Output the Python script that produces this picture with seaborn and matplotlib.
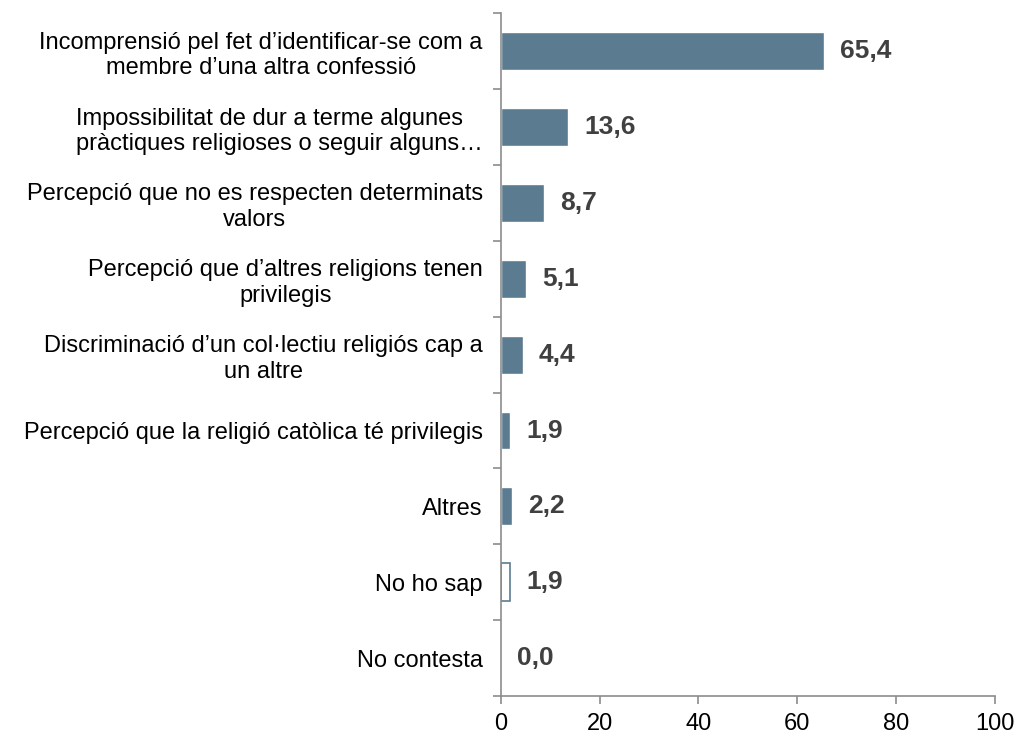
import matplotlib
matplotlib.use("Agg")
import matplotlib.pyplot as plt
import seaborn as sns
import pandas as pd

categories = [
    "Incomprensió pel fet d’identificar-se com a\nmembre d’una altra confessió",
    "Impossibilitat de dur a terme algunes\npràctiques religioses o seguir alguns…",
    "Percepció que no es respecten determinats\nvalors",
    "Percepció que d’altres religions tenen\nprivilegis",
    "Discriminació d’un col·lectiu religiós cap a\nun altre",
    "Percepció que la religió catòlica té privilegis",
    "Altres",
    "No ho sap",
    "No contesta",
]
values = [65.4, 13.6, 8.7, 5.1, 4.4, 1.9, 2.2, 1.9, 0.0]
value_labels = ["65,4", "13,6", "8,7", "5,1", "4,4", "1,9", "2,2", "1,9", "0,0"]
x_ticks = [0, 20, 40, 60, 80, 100]

sns.set_theme(style="white")
plt.rcParams["font.family"] = ["Liberation Sans", "DejaVu Sans"]

bar_color = "#5B7B90"
spine_color = "#8C8C8C"

df = pd.DataFrame({"cat": categories, "val": values})

fig = plt.figure(figsize=(10.18, 7.35), dpi=100)
ax = fig.add_axes([0.492, 0.053, 0.485, 0.929])

sns.barplot(data=df, y="cat", x="val", orient="h", color=bar_color,
            width=0.5, saturation=1, ax=ax, order=categories)

# "No ho sap" drawn as an outlined bar
for i, p in enumerate(ax.patches):
    if categories[i] == "No ho sap":
        p.set_facecolor("white")
        p.set_edgecolor(bar_color)
        p.set_linewidth(1.2)

ax.set_xlim(0, 100)
ax.set_ylim(len(categories) - 0.5, -0.5)
ax.set_xticks(x_ticks)
ax.set_xticklabels([str(t) for t in x_ticks], fontsize=17, color="black")

# category boundaries as major ticks, labels on minor ticks at the centres
ax.set_yticks([i - 0.5 for i in range(len(categories) + 1)])
ax.set_yticklabels([])
ax.set_yticks(range(len(categories)), minor=True)
ax.set_yticklabels(categories, minor=True, fontsize=17, color="black")
for lab in ax.get_yticklabels(minor=True):
    lab.set_multialignment("center")
ax.get_yticklabels(minor=True)[1].set_multialignment("left")

ax.tick_params(axis="y", which="major", length=6, width=1.2, color=spine_color, direction="out", left=True)
ax.tick_params(axis="y", which="minor", length=0, pad=13)
ax.tick_params(axis="x", which="major", length=6, width=1.2, color=spine_color, direction="out", bottom=True, pad=6)

ax.set_xlabel("")
ax.set_ylabel("")
for side in ["top", "right"]:
    ax.spines[side].set_visible(False)
for side in ["left", "bottom"]:
    ax.spines[side].set_color(spine_color)
    ax.spines[side].set_linewidth(1.2)

for i, (v, lab) in enumerate(zip(values, value_labels)):
    ax.annotate(lab, xy=(v, i), xytext=(11.5, 0), textcoords="offset points",
                ha="left", va="center", fontsize=19, fontweight="bold", color="#404040")

fig.savefig("out.png", dpi=100)
